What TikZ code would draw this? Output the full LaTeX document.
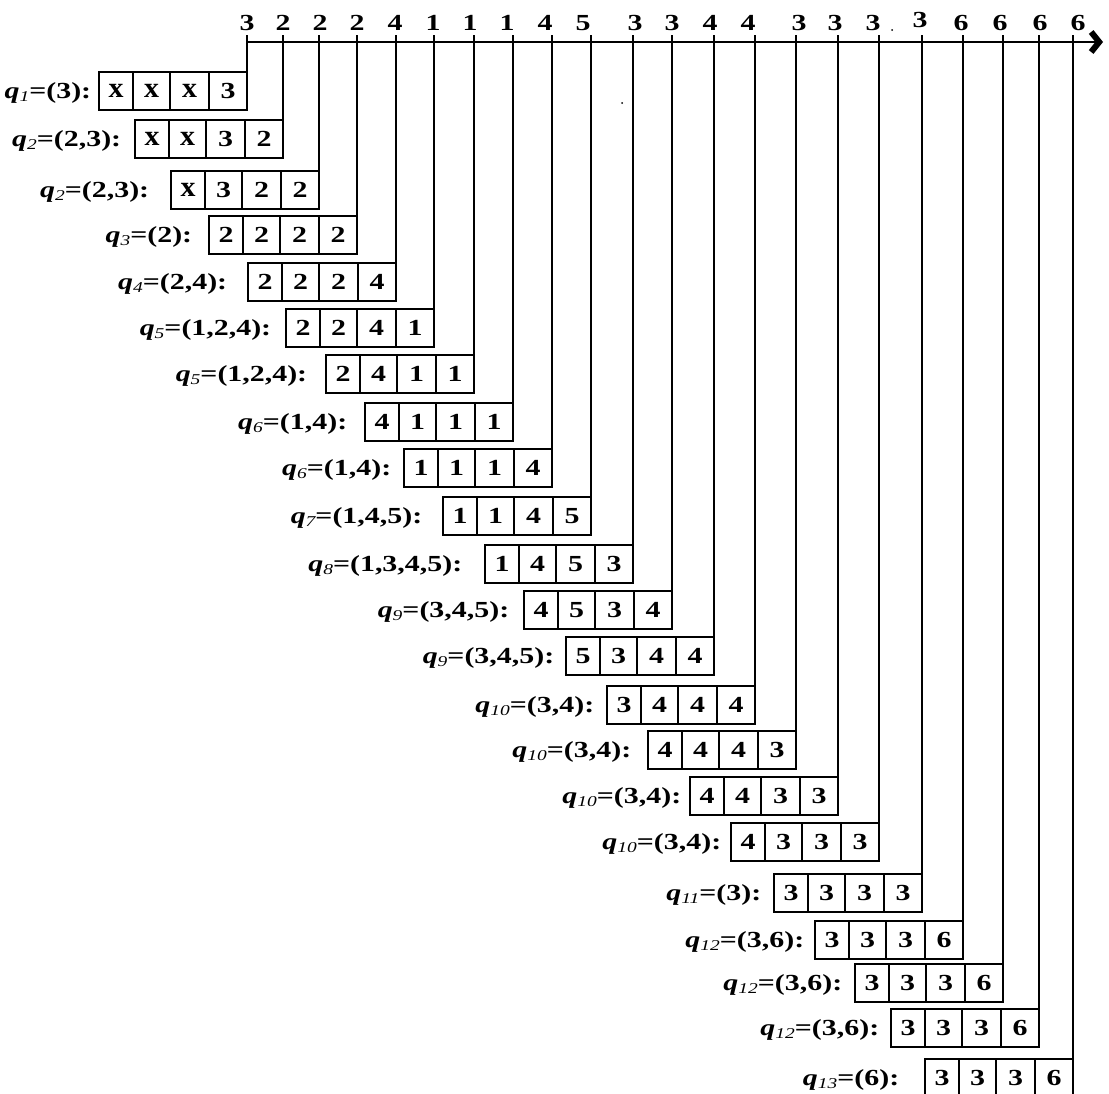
\documentclass[tikz,border=0pt]{standalone}
\usepackage{fontspec}
\setmainfont{Liberation Serif}[FakeStretch=1.3]
\usetikzlibrary{arrows.meta}
\newcommand\qsub[1]{\raisebox{-3pt}{\fontsize{15}{15}\selectfont\mdseries\itshape #1}}
\newcommand\xc{\scalebox{1}[1.25]{x}}
\begin{document}
\begin{tikzpicture}[x=1pt,y=-1pt,line width=1.6pt,
  font=\fontsize{23}{24}\selectfont\bfseries,
  cellbox/.style={draw,inner sep=0pt,outer sep=0pt,minimum height=38pt,anchor=north west},
  rowlabel/.style={anchor=base east,inner sep=0pt},
  axislabel/.style={anchor=base,inner sep=0pt},
  connector/.style={draw,line width=1.6pt}]
\useasboundingbox (0,0) rectangle (1109,1093);
\clip (0,0) rectangle (1109,1093);
\coordinate (axisstart) at (246,42);
\coordinate (axisend) at (1103,42);
\draw[-{Straight Barb[length=8pt,width=20pt,line width=6pt]}] (axisstart) -- (axisend);
\foreach \T/\R/\xl/\s/\qs/\va/\vb/\vc/\vd/\ax/\dx/\dy [count=\i] in {
72/247/92/1/{3}/\xc/\xc/\xc/3/3/0/0,
120/283/122/2/{2,3}/\xc/\xc/3/2/2/0/0,
171/319/150/2/{2,3}/\xc/3/2/2/2/1/0,
216/357/193/3/{2}/2/2/2/2/2/0/0,
263/396/228/4/{2,4}/2/2/2/4/4/-1/0,
309/434/272/5/{1,2,4}/2/2/4/1/1/-1/0,
355/474/308/5/{1,2,4}/2/4/1/1/1/-4/0,
403/513/348/6/{1,4}/4/1/1/1/1/-6/0,
449/552/392/6/{1,4}/1/1/1/4/4/-7/0,
497/591/423/7/{1,4,5}/1/1/4/5/5/-8/0,
545/633/463/8/{1,3,4,5}/1/4/5/3/3/2/0,
591/672/510/9/{3,4,5}/4/5/3/4/3/0/0,
637/714/555/9/{3,4,5}/5/3/4/4/4/-4/0,
686/755/595/10/{3,4}/3/4/4/4/4/-7/0,
731/796/632/10/{3,4}/4/4/4/3/3/3/0,
777/838/682/10/{3,4}/4/4/3/3/3/-3/0,
823/879/722/10/{3,4}/4/3/3/3/3/-6/0,
874/922/762/11/{3}/3/3/3/3/3/-2/-3,
921/963/805/12/{3,6}/3/3/3/6/6/-2/0,
964/1003/843/12/{3,6}/3/3/3/6/6/-3/0,
1009/1039/880/12/{3,6}/3/3/3/6/6/1/0,
1059/1073/900/13/{6}/3/3/3/6/6/5/0}
{
  \pgfmathsetmacro{\lft}{\R-148}
  \node[cellbox,minimum width=34pt] (c\i-1) at (\lft,\T) {\va};
  \node[cellbox,minimum width=37pt] (c\i-2) at (\lft+34,\T) {\vb};
  \node[cellbox,minimum width=39pt] (c\i-3) at (\lft+71,\T) {\vc};
  \node[cellbox,minimum width=38pt] (c\i-4) at (\lft+110,\T) {\vd};
  \node[rowlabel] (lab\i) at (\xl,\T+26.5) {\textit{q}\qsub{\s}=(\qs):};
  \node[axislabel] (n\i) at (\R+\dx,30+\dy) {\ax};
  \coordinate (t\i) at (\R,35);
  \draw[connector] (t\i) -- (c\i-4.north east);
}
\fill (622,103) circle (1);
\fill (892,30) circle (1);
\end{tikzpicture}
\end{document}
